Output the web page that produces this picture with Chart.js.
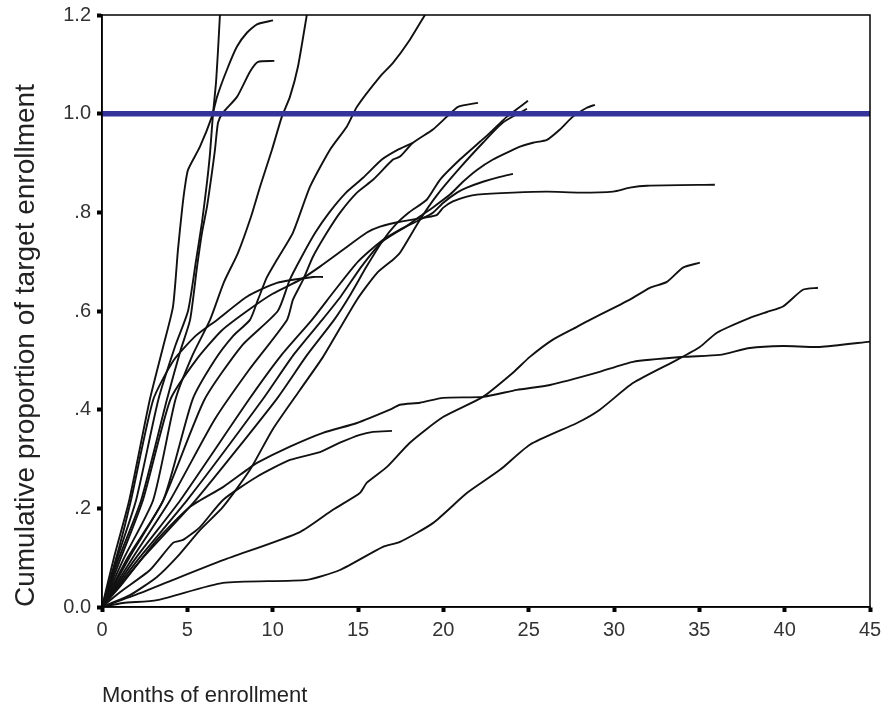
<!DOCTYPE html>
<html>
<head>
<meta charset="utf-8">
<script src="https://cdn.jsdelivr.net/npm/chart.js@4/dist/chart.umd.min.js"></script>
<style>
  html, body { margin: 0; padding: 0; background: #ffffff; }
  #wrap { width: 883px; height: 709px; position: relative; }
</style>
</head>
<body>
<div id="wrap"><canvas id="c" width="883" height="709"></canvas></div>
<script>
// ---- data (months of enrollment, cumulative proportion of target) ----
const xTickValues = [0, 5, 10, 15, 20, 25, 30, 35, 40, 45];
const yTickValues = [0, 0.2, 0.4, 0.6, 0.8, 1.0, 1.2];
const yTickLabels = ['0.0', '.2', '.4', '.6', '.8', '1.0', '1.2'];
const targetLine = [[0, 1.0], [45, 1.0]];

const siteA = [[0,0],[0.9,0.1],[2.0,0.217],[3.3,0.42],[4.3,0.53],[5.04,0.6],[5.5,0.7],[5.86,0.78],[6.15,0.86],[6.33,0.92],[6.5,0.998],[6.68,1.063],[6.8,1.13],[6.91,1.2]];
const siteB = [[0,0],[0.7,0.1],[1.6,0.217],[2.8,0.42],[3.6,0.53],[4.16,0.609],[4.45,0.724],[4.69,0.805],[4.86,0.852],[5.04,0.886],[5.74,0.933],[6.44,0.994],[6.74,1.034],[7.32,1.089],[7.91,1.136],[8.49,1.164],[9.08,1.181],[10.02,1.189]];
const siteC = [[0,0],[1.3,0.1],[3.0,0.217],[4.3,0.42],[5.3,0.51],[6.33,0.582],[7.14,0.658],[7.97,0.718],[8.73,0.791],[9.26,0.852],[9.96,0.927],[10.54,0.994],[11.01,1.034],[11.48,1.095],[12.0,1.2]];
const siteD = [[0,0],[1.0,0.1],[2.3,0.217],[3.8,0.42],[4.6,0.52],[5.16,0.582],[5.57,0.69],[5.86,0.759],[6.15,0.811],[6.44,0.88],[6.62,0.927],[6.8,0.982],[7.09,1.002],[7.91,1.034],[8.67,1.085],[9.14,1.105],[10.1,1.107]];
const siteE = [[0,0],[1.5,0.1],[3.6,0.217],[5.3,0.42],[6.6,0.5],[7.7,0.55],[8.67,0.582],[9.14,0.623],[9.67,0.669],[10.25,0.704],[11.19,0.759],[12.19,0.852],[13.36,0.927],[14.35,0.974],[14.94,1.014],[16.29,1.075],[17.05,1.103],[18.04,1.15],[18.92,1.2]];
const siteF = [[0,0],[1.8,0.1],[4.0,0.217],[6.6,0.38],[8.6,0.48],[10.84,0.582],[11.19,0.623],[11.78,0.663],[12.36,0.71],[13.18,0.759],[13.94,0.799],[14.94,0.84],[15.88,0.866],[17.05,0.907],[17.46,0.913],[18.22,0.941],[19.39,0.968],[20.21,0.994],[20.86,1.014],[22.03,1.022]];
const siteF2 = [[0,0],[1.6,0.1],[3.6,0.217],[6.0,0.42],[8.2,0.53],[10.3,0.6],[11.0,0.663],[11.7,0.71],[12.5,0.759],[13.3,0.799],[14.3,0.84],[15.3,0.87],[16.4,0.907],[17.4,0.928],[18.22,0.941]];
const siteG = [[0,0],[2.4,0.1],[5.5,0.217],[10.2,0.42],[12.0,0.51],[13.6,0.582],[14.5,0.63],[15.5,0.69],[16.4,0.74],[17.2,0.775],[18.0,0.8],[19.04,0.826],[19.8,0.866],[20.97,0.907],[22.14,0.943],[22.73,0.961],[23.73,0.994],[24.96,1.026]];
const siteH = [[0,0],[1.64,0.024],[3.22,0.061],[4.39,0.101],[5.74,0.156],[7.09,0.203],[8.67,0.278],[10.0,0.36],[11.6,0.44],[12.95,0.507],[14.94,0.623],[16.11,0.677],[17.05,0.704],[17.46,0.718],[18.63,0.785],[19.63,0.835],[20.97,0.89],[22.32,0.941],[23.49,0.982],[24.9,1.01]];
const siteI = [[0,0],[2.0,0.1],[4.6,0.217],[8.6,0.42],[10.5,0.51],[12.3,0.582],[13.6,0.64],[15.0,0.7],[16.3,0.74],[17.46,0.765],[18.63,0.785],[19.39,0.799],[19.98,0.819],[20.8,0.84],[21.38,0.85],[22.32,0.862],[23.32,0.872],[24.08,0.878]];
const siteJ = [[0,0],[1.0,0.09],[2.4,0.217],[4.0,0.42],[5.5,0.5],[7.0,0.56],[8.5,0.6],[10.0,0.635],[11.6,0.663],[12.77,0.69],[14.12,0.724],[15.52,0.759],[16.29,0.771],[17.46,0.781],[19.0,0.79],[19.63,0.795],[19.98,0.809],[20.56,0.822],[21.38,0.832],[21.97,0.836],[24.08,0.84],[26.07,0.842],[28.0,0.84],[29.94,0.842],[30.93,0.85],[31.93,0.854],[35.91,0.856]];
const siteK = [[0,0],[2.2,0.1],[5.0,0.217],[9.4,0.42],[11.2,0.51],[12.9,0.582],[14.0,0.63],[15.2,0.69],[16.4,0.74],[17.8,0.771],[18.6,0.791],[19.39,0.81],[20.39,0.836],[21.15,0.862],[21.97,0.886],[22.91,0.907],[23.73,0.921],[24.49,0.933],[25.25,0.941],[26.07,0.947],[26.83,0.968],[27.59,0.994],[28.41,1.012],[28.88,1.018]];
const siteL = [[0,0],[1.0,0.12],[1.7,0.217],[3.0,0.42],[4.2,0.5],[5.5,0.55],[6.74,0.582],[8.49,0.629],[10.25,0.657],[12.36,0.669],[12.95,0.669]];
const siteM = [[0,0],[1.05,0.03],[2.81,0.075],[4.16,0.13],[4.75,0.136],[5.74,0.162],[7.09,0.217],[9.08,0.264],[11.01,0.298],[12.77,0.314],[13.94,0.333],[15.11,0.349],[15.88,0.355],[16.99,0.357]];
const siteN = [[0,0],[1.23,0.049],[3.22,0.136],[5.16,0.203],[7.09,0.243],[8.49,0.278],[9.08,0.292],[11.01,0.325],[12.95,0.353],[14.94,0.373],[16.87,0.4],[17.46,0.41],[18.63,0.414],[19.98,0.424],[22.32,0.426],[24.31,0.44],[26.25,0.45],[29.0,0.475],[31.11,0.497],[34.04,0.507],[36.2,0.511],[37.96,0.525],[39.9,0.529],[42.06,0.527],[45.0,0.538]];
const siteO = [[0,0],[2.23,0.028],[4.16,0.055],[7.09,0.095],[11.6,0.152],[13.53,0.197],[15.11,0.231],[15.52,0.252],[16.7,0.284],[18.04,0.333],[19.98,0.385],[22.32,0.426],[24.08,0.475],[25.07,0.507],[26.42,0.542],[27.83,0.568],[28.59,0.582],[30.93,0.623],[32.1,0.647],[33.1,0.659],[34.04,0.688],[35.03,0.698]];
const siteP = [[0,0],[1.23,0.008],[3.22,0.014],[7.09,0.049],[12.0,0.055],[13.94,0.075],[16.46,0.122],[17.46,0.132],[19.39,0.17],[21.38,0.231],[23.32,0.278],[25.07,0.329],[27.83,0.373],[29.17,0.4],[31.11,0.454],[33.69,0.501],[35.03,0.527],[36.03,0.556],[37.96,0.586],[38.96,0.598],[39.9,0.609],[41.07,0.643],[41.95,0.647]];

const sites = [siteA, siteB, siteC, siteD, siteE, siteF, siteF2, siteG, siteH, siteI, siteJ, siteK, siteL, siteM, siteN, siteO, siteP];

const toPts = arr => arr.map(p => ({ x: p[0], y: p[1] }));

const datasets = [{
  data: toPts(targetLine),
  showLine: true,
  borderColor: '#333399',
  borderWidth: 5.5,
  pointRadius: 0,
  order: 0
}];
sites.forEach(s => datasets.push({
  data: toPts(s),
  showLine: true,
  borderColor: '#111111',
  borderWidth: 1.9,
  pointRadius: 0,
  tension: 0.2,
  order: 1
}));

const framePlugin = {
  id: 'frame',
  afterDatasetsDraw(chart) {
    const { ctx, chartArea: a } = chart;
    ctx.save();
    ctx.strokeStyle = '#000';
    ctx.lineWidth = 1.5;
    ctx.strokeRect(a.left, a.top, a.right - a.left, a.bottom - a.top);
    ctx.restore();
  }
};

new Chart(document.getElementById('c'), {
  type: 'scatter',
  data: { datasets },
  plugins: [framePlugin],
  options: {
    responsive: false,
    animation: false,
    layout: { autoPadding: false, padding: { left: 0, right: 13, top: 15, bottom: 0 } },
    plugins: { legend: { display: false }, tooltip: { enabled: false } },
    scales: {
      x: {
        type: 'linear',
        min: 0, max: 45,
        afterFit: s => { s.height = 102; s.paddingLeft = 0; s.paddingRight = 0; },
        afterBuildTicks: s => { s.ticks = xTickValues.map(v => ({ value: v })); },
        border: { display: true, color: '#000', width: 1.5 },
        grid: { display: true, drawOnChartArea: false, drawTicks: true, tickLength: 5, tickWidth: 4, tickColor: '#000' },
        ticks: { color: '#333', padding: 6, font: { family: 'Liberation Sans, Arial, sans-serif', size: 20 } },
        title: {
          display: true, text: 'Months of enrollment', align: 'start',
          color: '#222', padding: { top: 0, bottom: 0 },
          font: { family: 'Liberation Sans, Arial, sans-serif', size: 22 }
        }
      },
      y: {
        type: 'linear',
        min: 0, max: 1.2,
        afterFit: s => { s.width = 102; s.paddingTop = 0; s.paddingBottom = 0; },
        afterBuildTicks: s => { s.ticks = yTickValues.map(v => ({ value: v })); },
        border: { display: true, color: '#000', width: 1.5 },
        grid: { display: true, drawOnChartArea: false, drawTicks: true, tickLength: 5, tickWidth: 4, tickColor: '#000' },
        ticks: {
          color: '#333', padding: 6,
          font: { family: 'Liberation Sans, Arial, sans-serif', size: 20 },
          callback: (v) => { const i = yTickValues.findIndex(t => Math.abs(t - v) < 1e-6); return i >= 0 ? yTickLabels[i] : ''; }
        },
        title: {
          display: true, text: 'Cumulative proportion of target enrollment', align: 'start',
          color: '#222', padding: { top: 9, bottom: 0 },
          font: { family: 'Liberation Sans, Arial, sans-serif', size: 28 }
        }
      }
    }
  }
});
</script>
</body>
</html>
